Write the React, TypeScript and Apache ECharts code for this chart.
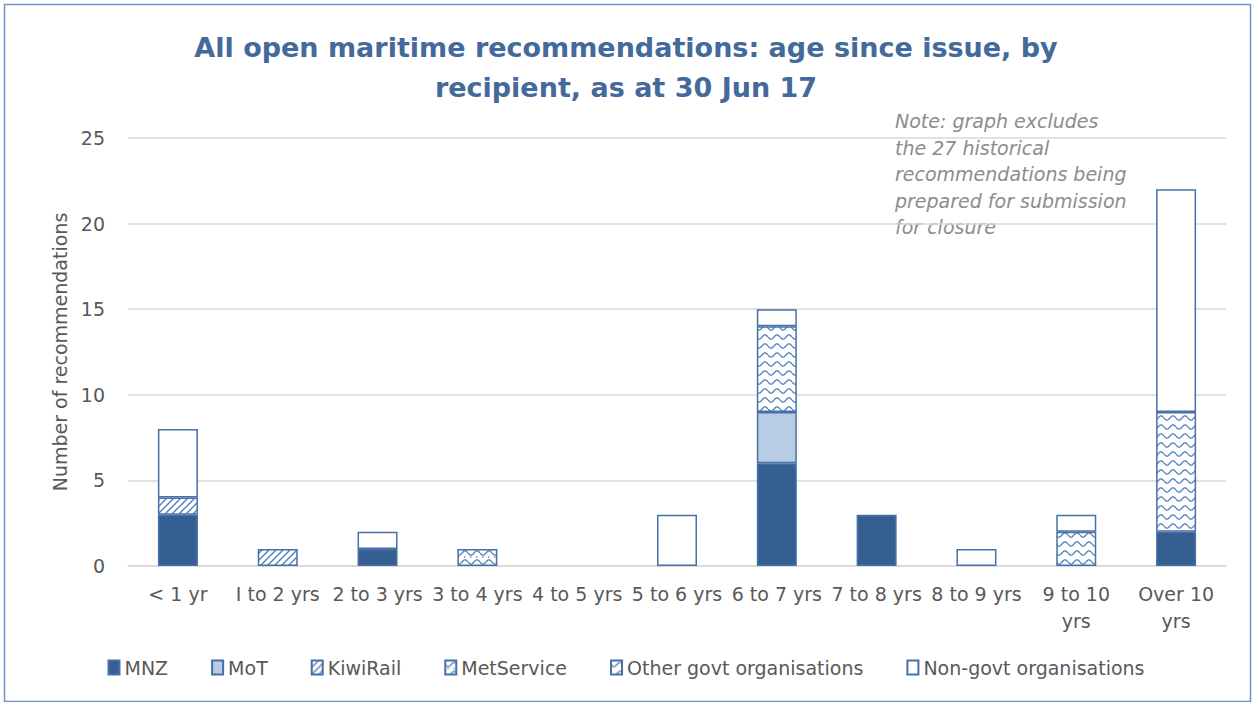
import React, { useEffect, useRef } from "react";
import * as echarts from "echarts";

const categories = ["< 1 yr", "I to 2 yrs", "2 to 3 yrs", "3 to 4 yrs", "4 to 5 yrs", "5 to 6 yrs", "6 to 7 yrs", "7 to 8 yrs", "8 to 9 yrs", "9 to 10\nyrs", "Over 10\nyrs"];
const mnz = [3, 0, 1, 0, 0, 0, 6, 3, 0, 0, 2];
const mot = [0, 0, 0, 0, 0, 0, 3, 0, 0, 0, 0];
const kiwiRail = [1, 1, 0, 0, 0, 0, 0, 0, 0, 0, 0];
const metService = [0, 0, 0, 1, 0, 0, 0, 0, 0, 0, 0];
const otherGovt = [0, 0, 0, 0, 0, 0, 5, 0, 0, 2, 7];
const nonGovt = [4, 0, 1, 0, 0, 3, 1, 0, 1, 1, 13];
const yTicks = [0, 5, 10, 15, 20, 25];

const titleText = "All open maritime recommendations: age since issue, by\nrecipient, as at 30 Jun 17";
const noteText = "Note: graph excludes\nthe 27 historical\nrecommendations being\nprepared for submission\nfor closure";

const FONT = "'DejaVu Sans', 'Open Sans', sans-serif";
const LINE = "#4F7FBA";
const BORDER = "#4670A6";
const TEXT = "#595959";

function hatchCanvas() {
  const c = document.createElement("canvas");
  c.width = 7;
  c.height = 7;
  const g = c.getContext("2d")!;
  g.fillStyle = "#ffffff";
  g.fillRect(0, 0, 7, 7);
  g.strokeStyle = LINE;
  g.lineWidth = 1.4;
  g.beginPath();
  g.moveTo(-1, 8); g.lineTo(8, -1);
  g.moveTo(-4.5, 4.5); g.lineTo(4.5, -4.5);
  g.moveTo(2.5, 11.5); g.lineTo(11.5, 2.5);
  g.stroke();
  return c;
}

function waveCanvas(dots: boolean) {
  const w = 12, h = 9;
  const c = document.createElement("canvas");
  c.width = w;
  c.height = h;
  const g = c.getContext("2d")!;
  g.fillStyle = "#ffffff";
  g.fillRect(0, 0, w, h);
  g.strokeStyle = LINE;
  g.lineWidth = 1.3;
  g.beginPath();
  for (let x = 0; x <= w; x += 0.5) {
    const y = 4 + 2.2 * Math.sin((2 * Math.PI * x) / w);
    if (x === 0) g.moveTo(x, y);
    else g.lineTo(x, y);
  }
  g.stroke();
  if (dots) {
    g.fillStyle = LINE;
    g.fillRect(2, 7.5, 1.5, 1.2);
    g.fillRect(8, 7.5, 1.5, 1.2);
  }
  return c;
}

export default function App() {
  const ref = useRef<HTMLDivElement>(null);
  useEffect(() => {
    if (!ref.current) return;
    const chart = echarts.init(ref.current, undefined, { renderer: "svg" });
    const hatch = { image: hatchCanvas(), repeat: "repeat" };
    const wave1 = { image: waveCanvas(true), repeat: "repeat" };
    const wave2 = { image: waveCanvas(false), repeat: "repeat" };
    const mk = (name: string, data: number[], color: any) => ({
      name,
      type: "bar",
      stack: "total",
      data: data.map((v) => (v === 0 ? null : v)),
      barWidth: 40,
      itemStyle: { color, borderColor: BORDER, borderWidth: 1.5 },
      emphasis: { disabled: true },
    });
    chart.setOption({
      animation: false,
      backgroundColor: "#ffffff",
      title: {
        text: titleText,
        left: "center",
        top: 22,
        textStyle: { fontFamily: FONT, fontSize: 27, fontWeight: "bold", color: "#44699B", lineHeight: 40 },
      },
      graphic: [
        {
          type: "text",
          left: 895,
          top: 108,
          style: { text: noteText, fontFamily: FONT, fontSize: 19, fontStyle: "italic", fill: "#8C8C8C", lineHeight: 26.5 },
        },
        {
          type: "rect",
          left: 2,
          top: 2,
          shape: { width: 1246, height: 697 },
          style: { fill: "none", stroke: "#6D93C8", lineWidth: 1.5 },
          silent: true,
        },
      ],
      legend: {
        top: 653,
        left: "center",
        itemWidth: 11,
        itemHeight: 14,
        itemGap: 43,
        icon: "rect",
        textStyle: { fontFamily: FONT, fontSize: 19, color: TEXT },
        data: ["MNZ", "MoT", "KiwiRail", "MetService", "Other govt organisations", "Non-govt organisations"],
      },
      grid: { left: 128, right: 26, top: 138, bottom: 136, containLabel: false },
      xAxis: {
        type: "category",
        data: categories,
        axisLine: { lineStyle: { color: "#D9D9D9", width: 1.5 } },
        axisTick: { show: false },
        axisLabel: { interval: 0, fontFamily: FONT, fontSize: 19, color: TEXT, margin: 14, lineHeight: 27 },
      },
      yAxis: {
        type: "value",
        min: 0,
        max: 25,
        interval: 5,
        name: "Number of recommendations",
        nameLocation: "middle",
        nameGap: 58,
        nameTextStyle: { fontFamily: FONT, fontSize: 19, color: TEXT },
        axisLabel: { fontFamily: FONT, fontSize: 19, color: TEXT, margin: 23, formatter: (v: number) => (yTicks.includes(v) ? String(v) : "") },
        splitLine: { lineStyle: { color: "#D9D9D9", width: 1.5 } },
      },
      series: [
        mk("MNZ", mnz, "#365F91"),
        mk("MoT", mot, "#B8CCE4"),
        mk("KiwiRail", kiwiRail, hatch),
        mk("MetService", metService, wave1),
        mk("Other govt organisations", otherGovt, wave2),
        mk("Non-govt organisations", nonGovt, "#ffffff"),
      ],
    });
    return () => chart.dispose();
  }, []);
  return <div ref={ref} style={{ position: "fixed", left: 0, top: 0, width: 1252, height: 702 }} />;
}
